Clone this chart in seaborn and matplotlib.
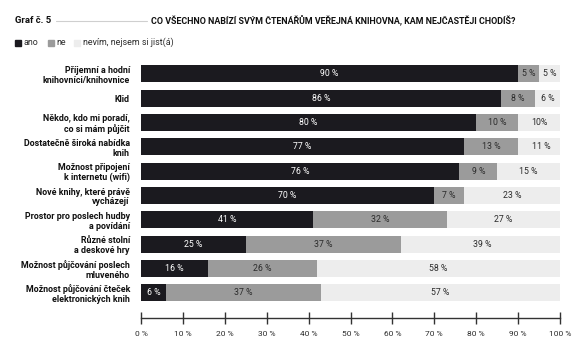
import matplotlib
matplotlib.use("Agg")
import matplotlib.pyplot as plt
import seaborn as sns
import pandas as pd
from matplotlib.patches import Rectangle
from matplotlib.lines import Line2D

# Survey answers (percent)
categories = [
    "Příjemní a hodní\nknihovníci/knihovnice",
    "Klid",
    "Někdo, kdo mi poradí,\nco si mám půjčit",
    "Dostatečně široká nabídka\nknih",
    "Možnost připojení\nk internetu (wifi)",
    "Nové knihy, které právě\nvycházejí",
    "Prostor pro poslech hudby\na povídání",
    "Různé stolní\na deskové hry",
    "Možnost půjčování poslech\nmluveného",
    "Možnost půjčování čteček\nelektronických knih",
]
ano = [90, 86, 80, 77, 76, 70, 41, 25, 16, 6]
ne = [5, 8, 10, 13, 9, 7, 32, 37, 26, 37]
nevim = [5, 6, 10, 11, 15, 23, 27, 39, 58, 57]
nevim_labels = ["5 %", "6 %", "10%", "11 %", "15 %", "23 %", "27 %", "39 %", "58 %", "57 %"]
ticks = list(range(0, 101, 10))
tick_labels = [f"{t} %" for t in ticks]
series_names = ["ano", "ne", "nevím, nejsem si jist(á)"]

C_ANO = "#1b1a1f"
C_NE = "#9b9b9b"
C_NEVIM = "#ededed"
TXT = "#2b2b2b"

sns.set_theme(style="white")
plt.rcParams["font.family"] = ["Roboto", "DejaVu Sans"]

df = pd.DataFrame({"cat": categories, "ano": ano, "ne": ne, "nevim": nevim})
df["c1"] = df["ano"]
df["c2"] = df["ano"] + df["ne"]
df["c3"] = df["ano"] + df["ne"] + df["nevim"]

W, H = 580, 345
fig = plt.figure(figsize=(W / 100, H / 100), dpi=100)
ax = fig.add_axes([141 / W, 1 - 318 / H, (560 - 141) / W, (318 - 62) / H])

# Stacked bars: draw cumulative totals back to front
for col, color in [("c3", C_NEVIM), ("c2", C_NE), ("c1", C_ANO)]:
    sns.barplot(data=df, y="cat", x=col, orient="h", color=color,
                width=0.7, saturation=1, ax=ax, linewidth=0, order=categories)

ax.set_xlim(0, 100)
ax.set_ylim(10.03, -0.49)

# Segment labels
for i in range(len(categories)):
    a, n, v = ano[i], ne[i], nevim[i]
    ax.text(a / 2, i, f"{a} %", ha="center", va="center", fontsize=6.3, color="white")
    ax.text(a + n / 2, i, f"{n} %", ha="center", va="center", fontsize=6.3, color=TXT)
    ax.text(a + n + v / 2, i, nevim_labels[i], ha="center", va="center", fontsize=6.3, color=TXT)

ax.set_xlabel("")
ax.set_ylabel("")
ax.set_xticks(ticks)
ax.set_xticklabels(tick_labels, fontsize=6, color=TXT)
ax.tick_params(axis="x", direction="inout", length=8, width=1, color="#333333", pad=5, bottom=True)
ax.tick_params(axis="y", length=0, pad=8)
for lab in ax.get_yticklabels():
    lab.set_fontweight("bold")
    lab.set_fontsize(6.4)
    lab.set_color("#111111")
    lab.set_linespacing(1.1)
for s in ["top", "right", "left"]:
    ax.spines[s].set_visible(False)
ax.spines["bottom"].set_color("#333333")
ax.spines["bottom"].set_linewidth(1)

# Heading
fig.text(15 / W, 1 - 20.5 / H, "Graf č. 5", fontsize=6.8, fontweight="bold", color="#111111",
         ha="left", va="center")
fig.add_artist(Line2D([56 / W, 147 / W], [1 - 20.5 / H, 1 - 20.5 / H], color="#cfcfcf", lw=0.8))
fig.text(151 / W, 1 - 20.5 / H,
         "CO VŠECHNO NABÍZÍ SVÝM ČTENÁŘŮM VEŘEJNÁ KNIHOVNA, KAM NEJČASTĚJI CHODÍŠ?",
         fontsize=6.4, fontweight="bold", color="#111111", ha="left", va="center")

# Legend
legend_items = [(15, 24, C_ANO), (48, 56, C_NE), (74, 83, C_NEVIM)]
for (sx, tx, c), name in zip(legend_items, series_names):
    fig.add_artist(Rectangle((sx / W, 1 - 45.5 / H), 6 / W, 6 / H, color=c,
                             transform=fig.transFigure))
    fig.text(tx / W, 1 - 42.5 / H, name, fontsize=6.4, color=TXT, ha="left", va="center")

fig.savefig("out.png", dpi=100, facecolor="white")
